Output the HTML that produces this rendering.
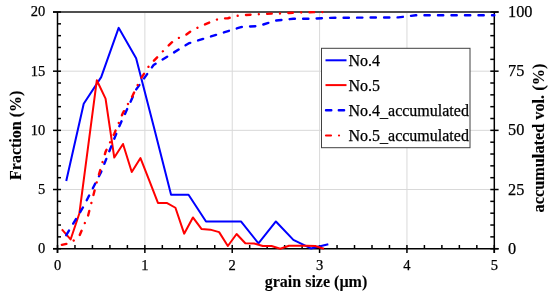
<!DOCTYPE html>
<html><head><meta charset="utf-8"><style>
html,body{margin:0;padding:0;background:#fff;width:550px;height:295px;overflow:hidden}
svg{display:block;will-change:transform}
text{font-family:"Liberation Serif",serif;font-size:16px;fill:#000;stroke:#000;stroke-width:0.25px}
.b{font-weight:bold;stroke-width:0.1px}
.s{font-size:14.5px}
.r{font-size:16.3px}
</style></head><body>
<svg width="550" height="295" viewBox="0 0 550 295">
<rect width="550" height="295" fill="#fff"/>
<g stroke="#d9d9d9" stroke-width="1"><line x1="144.86" y1="12.00" x2="144.86" y2="248.70"/><line x1="232.22" y1="12.00" x2="232.22" y2="248.70"/><line x1="319.58" y1="12.00" x2="319.58" y2="248.70"/><line x1="406.94" y1="12.00" x2="406.94" y2="248.70"/><line x1="57.50" y1="189.52" x2="494.30" y2="189.52"/><line x1="57.50" y1="130.35" x2="494.30" y2="130.35"/><line x1="57.50" y1="71.18" x2="494.30" y2="71.18"/></g>
<line x1="53" y1="12" x2="498.6" y2="12" stroke="#505050" stroke-width="2"/>
<g stroke="#000" stroke-width="1.5"><line x1="53" y1="248.70" x2="61" y2="248.70"/><line x1="57.50" y1="236.86" x2="61" y2="236.86"/><line x1="57.50" y1="225.03" x2="61" y2="225.03"/><line x1="57.50" y1="213.19" x2="61" y2="213.19"/><line x1="57.50" y1="201.36" x2="61" y2="201.36"/><line x1="53" y1="189.52" x2="61" y2="189.52"/><line x1="57.50" y1="177.69" x2="61" y2="177.69"/><line x1="57.50" y1="165.85" x2="61" y2="165.85"/><line x1="57.50" y1="154.02" x2="61" y2="154.02"/><line x1="57.50" y1="142.19" x2="61" y2="142.19"/><line x1="53" y1="130.35" x2="61" y2="130.35"/><line x1="57.50" y1="118.51" x2="61" y2="118.51"/><line x1="57.50" y1="106.68" x2="61" y2="106.68"/><line x1="57.50" y1="94.84" x2="61" y2="94.84"/><line x1="57.50" y1="83.01" x2="61" y2="83.01"/><line x1="53" y1="71.18" x2="61" y2="71.18"/><line x1="57.50" y1="59.34" x2="61" y2="59.34"/><line x1="57.50" y1="47.50" x2="61" y2="47.50"/><line x1="57.50" y1="35.67" x2="61" y2="35.67"/><line x1="57.50" y1="23.84" x2="61" y2="23.84"/><line x1="53" y1="12.00" x2="61" y2="12.00"/><line x1="490.30" y1="248.70" x2="498.60" y2="248.70"/><line x1="490.30" y1="236.86" x2="494.30" y2="236.86"/><line x1="490.30" y1="225.03" x2="494.30" y2="225.03"/><line x1="490.30" y1="213.19" x2="494.30" y2="213.19"/><line x1="490.30" y1="201.36" x2="494.30" y2="201.36"/><line x1="490.30" y1="189.52" x2="498.60" y2="189.52"/><line x1="490.30" y1="177.69" x2="494.30" y2="177.69"/><line x1="490.30" y1="165.85" x2="494.30" y2="165.85"/><line x1="490.30" y1="154.02" x2="494.30" y2="154.02"/><line x1="490.30" y1="142.19" x2="494.30" y2="142.19"/><line x1="490.30" y1="130.35" x2="498.60" y2="130.35"/><line x1="490.30" y1="118.51" x2="494.30" y2="118.51"/><line x1="490.30" y1="106.68" x2="494.30" y2="106.68"/><line x1="490.30" y1="94.84" x2="494.30" y2="94.84"/><line x1="490.30" y1="83.01" x2="494.30" y2="83.01"/><line x1="490.30" y1="71.18" x2="498.60" y2="71.18"/><line x1="490.30" y1="59.34" x2="494.30" y2="59.34"/><line x1="490.30" y1="47.50" x2="494.30" y2="47.50"/><line x1="490.30" y1="35.67" x2="494.30" y2="35.67"/><line x1="490.30" y1="23.84" x2="494.30" y2="23.84"/><line x1="490.30" y1="12.00" x2="498.60" y2="12.00"/><line x1="57.50" y1="245" x2="57.50" y2="253"/><line x1="74.97" y1="245" x2="74.97" y2="248.70"/><line x1="92.44" y1="245" x2="92.44" y2="248.70"/><line x1="109.92" y1="245" x2="109.92" y2="248.70"/><line x1="127.39" y1="245" x2="127.39" y2="248.70"/><line x1="144.86" y1="245" x2="144.86" y2="253"/><line x1="162.33" y1="245" x2="162.33" y2="248.70"/><line x1="179.80" y1="245" x2="179.80" y2="248.70"/><line x1="197.28" y1="245" x2="197.28" y2="248.70"/><line x1="214.75" y1="245" x2="214.75" y2="248.70"/><line x1="232.22" y1="245" x2="232.22" y2="253"/><line x1="249.69" y1="245" x2="249.69" y2="248.70"/><line x1="267.16" y1="245" x2="267.16" y2="248.70"/><line x1="284.64" y1="245" x2="284.64" y2="248.70"/><line x1="302.11" y1="245" x2="302.11" y2="248.70"/><line x1="319.58" y1="245" x2="319.58" y2="253"/><line x1="337.05" y1="245" x2="337.05" y2="248.70"/><line x1="354.52" y1="245" x2="354.52" y2="248.70"/><line x1="372.00" y1="245" x2="372.00" y2="248.70"/><line x1="389.47" y1="245" x2="389.47" y2="248.70"/><line x1="406.94" y1="245" x2="406.94" y2="253"/><line x1="424.41" y1="245" x2="424.41" y2="248.70"/><line x1="441.88" y1="245" x2="441.88" y2="248.70"/><line x1="459.36" y1="245" x2="459.36" y2="248.70"/><line x1="476.83" y1="245" x2="476.83" y2="248.70"/><line x1="494.30" y1="245" x2="494.30" y2="253"/>
<line x1="57.5" y1="12" x2="57.5" y2="253"/>
<line x1="494.30" y1="12" x2="494.30" y2="253"/>
<line x1="53" y1="248.7" x2="498.6" y2="248.7"/>
</g>
<g fill="none" stroke-linejoin="round">
<path d="M66.24,181.00 L83.71,103.72 L101.18,77.09 L118.65,27.86 L136.12,58.16 L153.60,125.97 L171.07,194.73 L188.54,194.73 L206.01,221.48 L223.48,221.48 L240.96,221.48 L258.43,243.26 L275.90,221.48 L293.37,239.82 L310.84,248.46 L328.32,244.20" stroke="#0000ff" stroke-width="2"/>
<path d="M61.87,229.29 L70.60,239.47 L79.34,213.55 L88.08,146.92 L96.81,80.29 L105.55,98.63 L114.28,157.57 L123.02,143.96 L131.76,172.01 L140.49,158.04 L149.23,180.47 L157.96,202.90 L166.70,202.90 L175.44,207.75 L184.17,233.67 L192.91,217.46 L201.64,229.05 L210.38,229.65 L219.12,232.13 L227.85,245.98 L236.59,234.02 L245.32,243.26 L254.06,243.49 L262.80,245.98 L271.53,245.98 L280.27,248.70 L289.00,245.74 L297.74,245.74 L306.48,245.74 L315.21,245.98 L323.95,248.70" stroke="#ff0000" stroke-width="2"/>
<path d="M66.24,235.16 L83.71,206.17 L101.18,171.84 L118.65,127.68 L136.12,89.57 L153.60,65.02 L171.07,54.23 L188.54,43.43 L206.01,37.99 L223.48,32.55 L240.96,27.10 L258.43,26.01 L275.90,20.57 L293.37,18.79 L310.84,18.75 L328.32,17.85 L398.20,17.37 L415.68,15.31 L494.30,15.31" stroke="#0000ff" stroke-width="2.4" stroke-dasharray="5.3 8.2" stroke-linecap="round"/>
<path d="M61.87,244.82 L70.60,242.97 L79.34,235.94 L88.08,215.59 L96.81,181.90 L105.55,151.89 L114.28,133.66 L123.02,112.72 L131.76,97.38 L140.49,79.25 L149.23,65.60 L157.96,56.44 L166.70,47.28 L175.44,39.09 L184.17,36.08 L192.91,29.84 L201.64,25.91 L210.38,22.10 L219.12,18.78 L227.85,18.24 L236.59,15.91 L245.32,15.08 L254.06,14.49 L262.80,14.13 L271.53,13.66 L280.27,13.42 L289.00,12.95 L297.74,12.59 L306.48,12.24 L315.21,12.12 L323.95,12.12" stroke="#ff0000" stroke-width="2.4" stroke-dasharray="4.6 8.3 0.01 8.3" stroke-linecap="round"/>
</g>
<text class="s" x="45.3" y="253.10" text-anchor="end">0</text><text class="s" x="45.3" y="193.92" text-anchor="end">5</text><text class="s" x="45.3" y="134.75" text-anchor="end">10</text><text class="s" x="45.3" y="75.58" text-anchor="end">15</text><text class="s" x="45.3" y="16.40" text-anchor="end">20</text><text class="r" x="508" y="253.80">0</text><text class="r" x="508" y="194.62">25</text><text class="r" x="508" y="135.45">50</text><text class="r" x="508" y="76.27">75</text><text class="r" x="508" y="17.10">100</text><text class="s" x="57.50" y="270.3" text-anchor="middle">0</text><text class="s" x="144.86" y="270.3" text-anchor="middle">1</text><text class="s" x="232.22" y="270.3" text-anchor="middle">2</text><text class="s" x="319.58" y="270.3" text-anchor="middle">3</text><text class="s" x="406.94" y="270.3" text-anchor="middle">4</text><text class="s" x="494.30" y="270.3" text-anchor="middle">5</text>
<text class="b" transform="translate(21.3,135.3) rotate(-90)" text-anchor="middle">Fraction (%)</text>
<text class="b" style="font-size:16.3px" transform="translate(543.8,138) rotate(-90)" text-anchor="middle">accumulated vol. (%)</text>
<text class="b" x="316" y="286.8" text-anchor="middle">grain size (µm)</text>
<rect x="321.5" y="48.3" width="148.5" height="99.4" fill="#fff" stroke="#404040" stroke-width="1"/>
<g stroke-width="2" fill="none">
<line x1="325.5" y1="60.3" x2="346.5" y2="60.3" stroke="#0000ff"/>
<line x1="325.5" y1="85.1" x2="346.5" y2="85.1" stroke="#ff0000"/>
<line x1="326" y1="110.3" x2="346" y2="110.3" stroke="#0000ff" stroke-width="2.4" stroke-dasharray="5.3 7.5" stroke-linecap="round"/>
<line x1="326" y1="135.5" x2="346" y2="135.5" stroke="#ff0000" stroke-width="2.2" stroke-dasharray="5 8 0.01 12" stroke-linecap="round"/>
</g>
<text x="348.5" y="65.5">No.4</text>
<text x="348.5" y="90.7">No.5</text>
<text x="348.5" y="115.5">No.4<tspan dy="1.4">_</tspan><tspan dy="-1.4">accumulated</tspan></text>
<text x="348.5" y="140.5">No.5<tspan dy="1.4">_</tspan><tspan dy="-1.4">accumulated</tspan></text>
</svg>
</body></html>
